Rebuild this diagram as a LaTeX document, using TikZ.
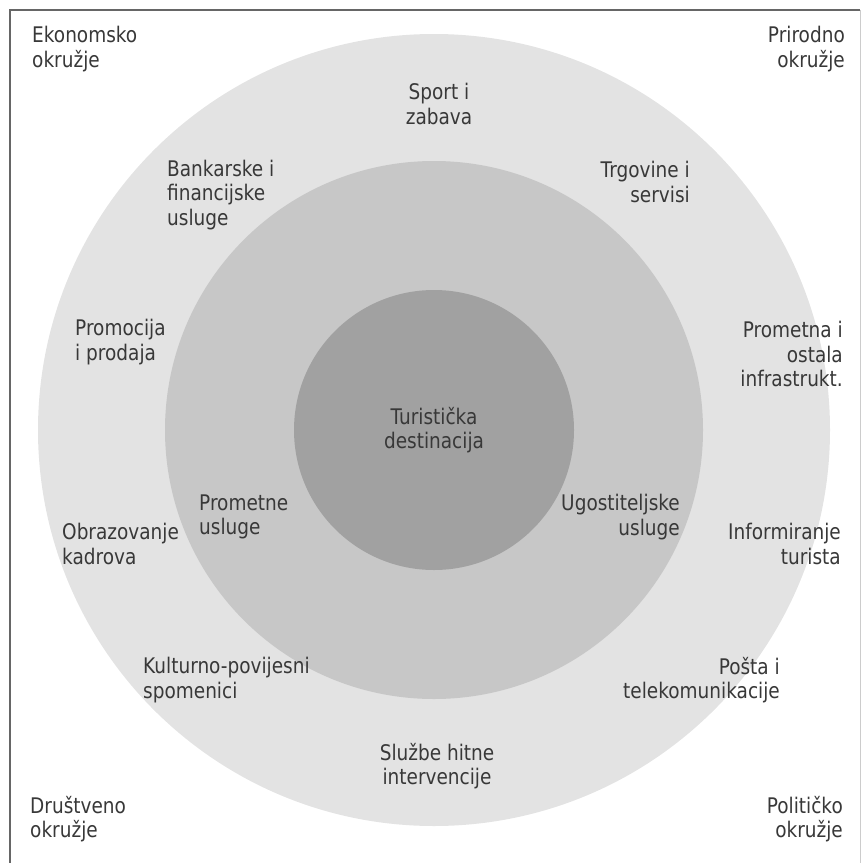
\documentclass[tikz,border=0pt]{standalone}
\usepackage{fontspec}
\setmainfont[FakeStretch=0.86]{DejaVu Sans}
\usetikzlibrary{calc}

\definecolor{ringout}{gray}{0.89}
\definecolor{ringmid}{gray}{0.78}
\definecolor{ringin}{gray}{0.63}
\definecolor{txtgray}{gray}{0.22}

\begin{document}
\begin{tikzpicture}[x=1bp,y=-1bp,
  lbl/.style={text=txtgray,inner sep=0pt,font=\fontsize{21.5bp}{24.5bp}\selectfont},
  lbll/.style={lbl,align=left},
  lblr/.style={lbl,align=right},
  lblc/.style={lbl,align=center}]
\useasboundingbox (0,0) rectangle (863,863);
\coordinate (origin) at (434,430);
% Draw frame
\draw[line width=2bp,gray!80!black] (10,870) -- (10,10) -- (860,10);
\draw[line width=1bp,gray!40] (860,10) -- (860,870);
% Draw rings
\fill[ringout] (origin) circle [radius=396];
\fill[ringmid] (origin) circle [radius=269];
\fill[ringin] (origin) circle [radius=140];
% Corner labels
\node[lbll,anchor=north west] (eko) at (32,26) {Ekonomsko\\okružje};
\node[lblr,anchor=north east] (pri) at (845,26) {Prirodno\\okružje};
\node[lbll,anchor=north west] (drus) at (30,796) {Društveno\\okružje};
\node[lblr,anchor=north east] (pol) at (843,796) {Političko\\okružje};
% Outer ring
\node[lblc] (sport) at (439,104) {Sport i\\zabava};
\node[lbll,anchor=west] (bank) at (167,195) {Bankarske i\\financijske\\usluge};
\node[lblr,anchor=east] (trg) at (690,182) {Trgovine i\\servisi};
\node[lbll,anchor=west] (prom) at (75,342) {Promocija\\i prodaja};
\node[lblr,anchor=east] (infra) at (843,354) {Prometna i\\ostala\\infrastrukt.};
\node[lbll,anchor=west] (obraz) at (62,544) {Obrazovanje\\kadrova};
\node[lblr,anchor=east] (info) at (841,544) {Informiranje\\turista};
\node[lbll,anchor=west] (kult) at (143,680) {Kulturno-povijesni\\spomenici};
\node[lblr,anchor=east] (posta) at (780,680) {Pošta i\\telekomunikacije};
\node[lblc] (hitne) at (437,766) {Službe hitne\\intervencije};
% Middle ring
\node[lbll,anchor=west] (promu) at (199,517) {Prometne\\usluge};
\node[lblr,anchor=east] (ugost) at (680,517) {Ugostiteljske\\usluge};
% Centre
\node[lblc] (dest) at (origin) {Turistička\\destinacija};
\end{tikzpicture}
\end{document}
